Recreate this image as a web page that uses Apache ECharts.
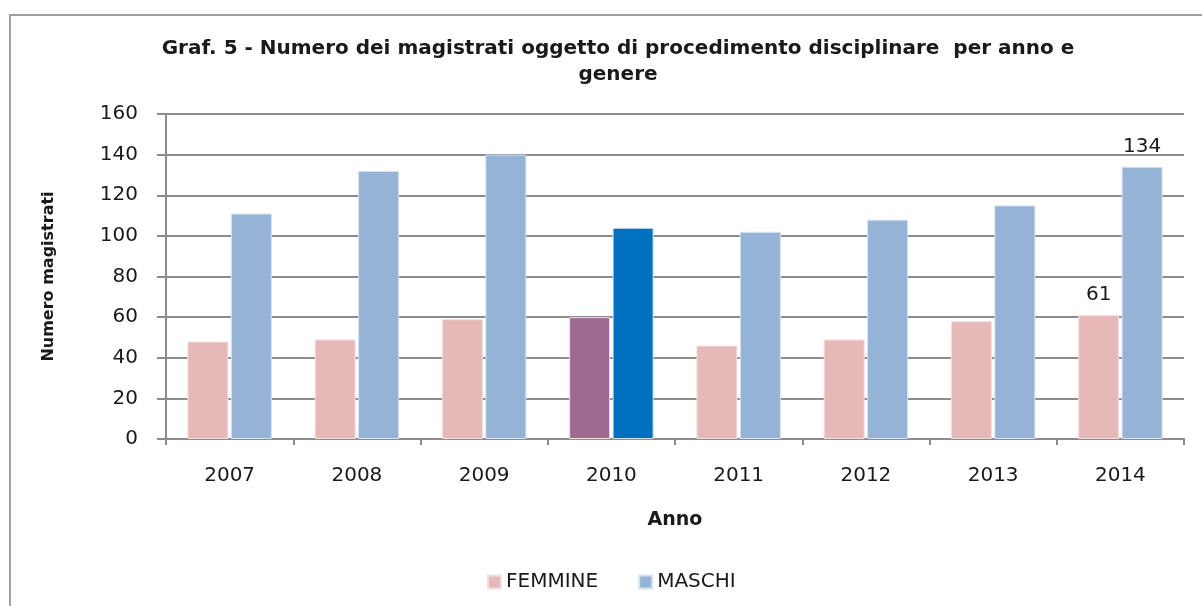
<!DOCTYPE html>
<html>
<head>
<meta charset="utf-8">
<script src="https://cdn.jsdelivr.net/npm/echarts@6/dist/echarts.min.js"></script>
<style>
  html, body { margin: 0; padding: 0; background: #fff; }
  #frame {
    position: absolute; left: 9px; top: 14px; width: 1200px; height: 600px;
    border-left: 2px solid #a0a0a0; border-top: 2px solid #a0a0a0;
  }
  #chart { position: absolute; left: 0; top: 0; width: 1202px; height: 606px; }
</style>
</head>
<body>
<div id="frame"></div>
<div id="chart"></div>
<script>
  var anni = ['2007', '2008', '2009', '2010', '2011', '2012', '2013', '2014'];
  var femmine = [48, 49, 59, 60, 46, 49, 58, 61];
  var maschi = [111, 132, 140, 104, 102, 108, 115, 134];
  var yTicks = [0, 20, 40, 60, 80, 100, 120, 140, 160];

  var colF = '#E6B9B8', colM = '#95B3D7';
  var colF2010 = '#9E6A92', colM2010 = '#0070C0';
  var font = 'DejaVu Sans';

  function buildItems (values, highlight) {
    return values.map(function (v, i) {
      var item = { value: v };
      if (anni[i] === '2010') {
        item.itemStyle = { color: highlight };
      }
      if (anni[i] === '2014') {
        item.label = { show: true };
      }
      return item;
    });
  }

  var chart = echarts.init(document.getElementById('chart'), null, { renderer: 'canvas' });
  chart.setOption({
    animation: false,
    textStyle: { fontFamily: font },
    title: {
      text: 'Graf. 5 - Numero dei magistrati oggetto di procedimento disciplinare  per anno e\ngenere',
      left: 613,
      top: 31,
      textAlign: 'center',
      textStyle: {
        fontFamily: font,
        fontSize: 20,
        fontWeight: 'bold',
        color: '#1a1a1a',
        lineHeight: 26
      }
    },
    grid: { left: 166, right: 18, top: 114, bottom: 167, containLabel: false },
    legend: {
      left: 482,
      top: 567,
      icon: 'rect',
      itemWidth: 13,
      itemHeight: 13,
      itemGap: 40,
      textStyle: { fontFamily: font, fontSize: 20, color: '#1a1a1a' },
      data: ['FEMMINE', 'MASCHI']
    },
    xAxis: {
      type: 'category',
      data: anni,
      name: 'Anno',
      nameLocation: 'middle',
      nameGap: 72,
      nameTextStyle: { fontFamily: font, fontSize: 19, fontWeight: 'bold', color: '#1a1a1a' },
      axisLine: { lineStyle: { color: '#8c8c8c', width: 2 } },
      axisTick: { show: true, length: 6, lineStyle: { color: '#8c8c8c', width: 2 } },
      axisLabel: { fontFamily: font, fontSize: 20, color: '#1a1a1a', margin: 27 }
    },
    yAxis: {
      type: 'value',
      min: yTicks[0],
      max: yTicks[yTicks.length - 1],
      interval: yTicks[1] - yTicks[0],
      name: 'Numero magistrati',
      nameLocation: 'middle',
      nameGap: 109,
      nameRotate: 90,
      nameTextStyle: { fontFamily: font, fontSize: 16, fontWeight: 'bold', color: '#1a1a1a' },
      axisLine: { show: true, lineStyle: { color: '#8c8c8c', width: 2 } },
      axisTick: { show: true, length: 9, lineStyle: { color: '#8c8c8c', width: 2 } },
      axisLabel: { fontFamily: font, fontSize: 20, color: '#1a1a1a', margin: 28 },
      splitLine: { lineStyle: { color: '#8c8c8c', width: 2 } }
    },
    series: [
      {
        name: 'FEMMINE',
        type: 'bar',
        barWidth: 41,
        barGap: '6%',
        itemStyle: { color: colF, borderColor: '#f4e0df', borderWidth: 1 },
        label: { show: false, position: 'top', distance: 10, fontFamily: font, fontSize: 20, color: '#1a1a1a' },
        data: buildItems(femmine, colF2010)
      },
      {
        name: 'MASCHI',
        type: 'bar',
        barWidth: 41,
        barGap: '6%',
        itemStyle: { color: colM, borderColor: '#d5e2f0', borderWidth: 1 },
        label: { show: false, position: 'top', distance: 10, fontFamily: font, fontSize: 20, color: '#1a1a1a' },
        data: buildItems(maschi, colM2010)
      }
    ]
  });
</script>
</body>
</html>
